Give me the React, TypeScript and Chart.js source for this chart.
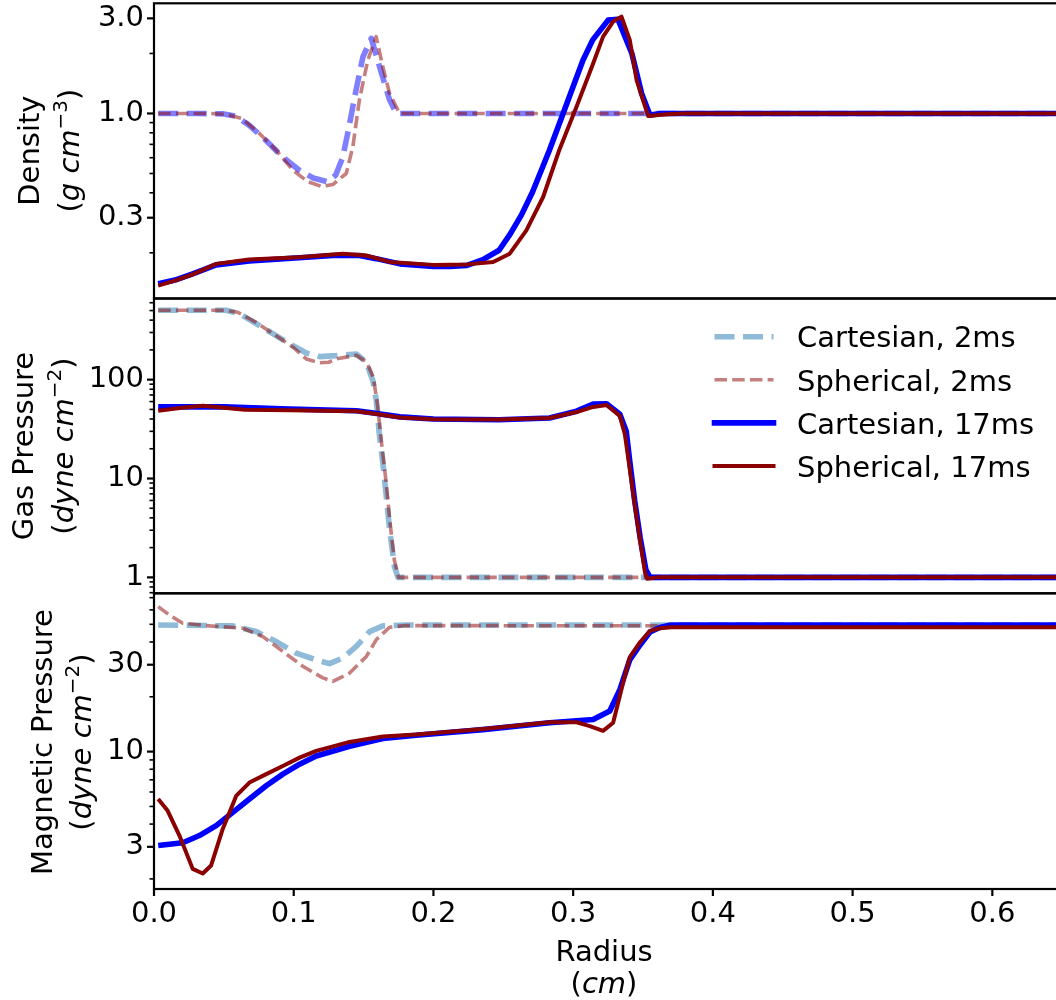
import React, { useEffect, useRef } from 'react';
import { Chart, registerables } from 'chart.js';

Chart.register(...registerables);

// ---------- data (radius in cm, value) ----------
const X_MAX = 0.647;
const X_TICKS = [0, 0.1, 0.2, 0.3, 0.4, 0.5, 0.6];

type Pt = [number, number];

const densCart2ms: Pt[] = [[0.003,1.0],[0.03,1.0],[0.05,0.995],[0.058,0.97],[0.068,0.874],[0.08,0.734],[0.092,0.605],[0.104,0.519],[0.114,0.475],[0.124,0.455],[0.13,0.49],[0.135,0.6],[0.1395,0.85],[0.1435,1.2],[0.1495,1.92],[0.1555,2.38],[0.1615,1.71],[0.1686,1.17],[0.1734,1.0],[0.2,1.0],[0.647,1.0]];
const densSph2ms: Pt[] = [[0.003,1.0],[0.04,1.0],[0.052,0.99],[0.063,0.944],[0.0755,0.793],[0.0875,0.654],[0.0994,0.519],[0.11,0.455],[0.12,0.43],[0.128,0.44],[0.1376,0.5],[0.1423,0.68],[0.147,1.17],[0.153,1.85],[0.159,2.43],[0.1638,1.71],[0.1686,1.26],[0.1758,1.0],[0.2,1.0],[0.647,1.0]];
const densCart17ms: Pt[] = [[0.003,0.14],[0.015,0.146],[0.0277,0.157],[0.0445,0.174],[0.0683,0.182],[0.104,0.189],[0.128,0.194],[0.147,0.194],[0.159,0.187],[0.176,0.176],[0.2,0.171],[0.2116,0.171],[0.224,0.173],[0.2354,0.185],[0.247,0.206],[0.255,0.249],[0.263,0.31],[0.271,0.405],[0.283,0.654],[0.295,1.1],[0.307,1.85],[0.314,2.34],[0.325,2.94],[0.332,2.97],[0.342,2.0],[0.349,1.26],[0.355,0.98],[0.362,1.0],[0.647,1.0]];
const densSph17ms: Pt[] = [[0.003,0.137],[0.015,0.145],[0.0277,0.156],[0.0445,0.176],[0.068,0.185],[0.104,0.19],[0.135,0.198],[0.152,0.194],[0.1686,0.18],[0.2,0.174],[0.224,0.175],[0.2427,0.18],[0.2546,0.198],[0.2665,0.259],[0.2785,0.381],[0.29,0.654],[0.3024,1.08],[0.3143,1.78],[0.3214,2.43],[0.3286,2.89],[0.3346,3.06],[0.3405,2.34],[0.3454,1.47],[0.3537,0.97],[0.367,0.99],[0.38,1.0],[0.647,1.0]];

const gasCart2ms: Pt[] = [[0.003,503],[0.0516,503],[0.0612,466],[0.0731,369],[0.085,292],[0.097,231],[0.109,186],[0.1185,171],[0.1304,175],[0.1448,182],[0.152,150],[0.1567,97],[0.159,63],[0.1615,26],[0.1638,14.4],[0.1686,3.1],[0.172,1.3],[0.1746,1.0],[0.647,1.0]];
const gasSph2ms: Pt[] = [[0.003,503],[0.05,503],[0.06,480],[0.073,380],[0.0855,290],[0.0994,214],[0.109,162],[0.1185,148],[0.125,150],[0.1304,162],[0.1448,176],[0.152,152],[0.157,105],[0.16,55],[0.163,22],[0.1662,9],[0.169,3.5],[0.172,1.5],[0.175,1.0],[0.647,1.0]];
const gasCart17ms: Pt[] = [[0.003,53],[0.05,53],[0.097,50.4],[0.145,48.4],[0.157,46],[0.176,42],[0.2,40],[0.247,39.3],[0.283,41],[0.3024,48],[0.3143,56.6],[0.3239,57],[0.3334,44.7],[0.338,30],[0.3405,15],[0.344,6],[0.348,2.5],[0.352,1.2],[0.355,1.0],[0.647,1.0]];
const gasSph17ms: Pt[] = [[0.003,48.4],[0.02,52],[0.035,54.4],[0.05,52],[0.065,49.5],[0.097,49],[0.145,48],[0.157,45.5],[0.176,41.5],[0.2,39.8],[0.247,39.5],[0.283,41],[0.3024,47],[0.3143,53],[0.3239,55.5],[0.3334,43],[0.337,28],[0.34,14],[0.344,5.5],[0.348,2.3],[0.3515,1.1],[0.353,0.97],[0.36,1.0],[0.647,1.0]];

const magCart2ms: Pt[] = [[0.003,49.6],[0.0564,49],[0.0731,45.6],[0.0875,40.2],[0.1018,34.7],[0.116,31.9],[0.1256,30.4],[0.1352,32.7],[0.1448,37.8],[0.1543,45.6],[0.1638,49],[0.18,49.6],[0.647,49.6]];
const magSph2ms: Pt[] = [[0.003,62.5],[0.011,56.2],[0.0206,50.7],[0.04,49],[0.0635,47.6],[0.0779,42.8],[0.0922,35.5],[0.1065,29.4],[0.1208,25.4],[0.128,24.3],[0.14,27],[0.152,33.3],[0.159,41.1],[0.1686,48.2],[0.18,49.2],[0.647,48.8]];
const magCart17ms: Pt[] = [[0.003,3.05],[0.0206,3.16],[0.0325,3.46],[0.0445,3.92],[0.0564,4.64],[0.0683,5.49],[0.0803,6.49],[0.0922,7.52],[0.1042,8.53],[0.1161,9.46],[0.14,10.7],[0.1638,11.8],[0.1877,12.3],[0.2354,13.2],[0.2832,14.4],[0.3143,15.0],[0.3262,16.7],[0.3334,21.9],[0.3405,31.9],[0.348,38.6],[0.355,45.4],[0.362,48],[0.37,49.6],[0.647,49.6]];
const magSph17ms: Pt[] = [[0.003,5.49],[0.0098,4.73],[0.0182,3.46],[0.0277,2.27],[0.0349,2.14],[0.0409,2.37],[0.0492,3.76],[0.0588,5.71],[0.0683,6.76],[0.0803,7.52],[0.0922,8.34],[0.1042,9.27],[0.1161,10.1],[0.14,11.3],[0.1638,12.1],[0.1877,12.4],[0.2354,13.3],[0.2832,14.5],[0.3024,14.5],[0.3119,13.8],[0.3214,13.0],[0.3286,14.4],[0.3357,23.8],[0.3405,33],[0.348,40],[0.355,46],[0.362,47.5],[0.37,48.2],[0.647,48.2]];

// tick values / labels
const densMajors = [0.3, 1, 3];
const densLabels = ['0.3', '1.0', '3.0'];
const densMinors = [0.2, 0.4, 0.5, 0.6, 0.7, 0.8, 0.9, 2];
const gasMajors = [1, 10, 100];
const gasLabels = ['1', '10', '100'];
const gasMinors = [0.7, 0.8, 0.9, 2, 3, 4, 5, 6, 7, 8, 9, 20, 30, 40, 50, 60, 70, 80, 90, 200, 300, 400, 500, 600];
const magMajors = [3, 10, 30];
const magLabels = ['3', '10', '30'];
const magMinors = [2, 4, 5, 6, 7, 8, 9, 20, 40, 50, 60, 70];

const legendLabels = ['Cartesian, 2ms', 'Spherical, 2ms', 'Cartesian, 17ms', 'Spherical, 17ms'];

// ---------- styles ----------
const FONT = '"DejaVu Sans", sans-serif';
const FS = 29;
const CART2_DENS = 'rgba(0,0,255,0.5)';
const CART2 = 'rgba(31,119,180,0.5)';
const SPH2 = 'rgba(139,0,0,0.5)';
const CART17 = '#0000ff';
const SPH17 = '#8b0000';
const W_C2 = 5.6, W_S2 = 3.6, W_C17 = 5.6, W_S17 = 4.0;
const D_C2 = [20, 8.5], D_S2 = [12.5, 5.2];

const CANVAS_W = 1062;
const PLOT_LEFT = 154;
const PLOT_RIGHT = 1058;

type Part = { t: string; it?: boolean; sup?: boolean };
type Series = { data: Pt[]; color: string; width: number; dash: number[]; order: number };

interface Panel {
  canvasTop: number; canvasH: number; padTop: number; padBottom: number;
  yMin: number; yMax: number; majors: number[]; labels: string[]; minors: number[];
  series: Series[];
  line1: string; line2: Part[]; x1: number; x2: number; cy: number;
  showX: boolean; legend: boolean;
}

const mkSeries = (c2: Pt[], s2: Pt[], c17: Pt[], s17: Pt[], c2col: string): Series[] => [
  { data: c2, color: c2col, width: W_C2, dash: D_C2, order: 4 },
  { data: s2, color: SPH2, width: W_S2, dash: D_S2, order: 3 },
  { data: c17, color: CART17, width: W_C17, dash: [], order: 2 },
  { data: s17, color: SPH17, width: W_S17, dash: [], order: 1 },
];

const PANELS: Panel[] = [
  {
    canvasTop: 0, canvasH: 300, padTop: 3.3, padBottom: 1.5,
    yMin: 0.118, yMax: 3.57, majors: densMajors, labels: densLabels, minors: densMinors,
    series: mkSeries(densCart2ms, densSph2ms, densCart17ms, densSph17ms, CART2_DENS),
    line1: 'Density', line2: [{ t: '(' }, { t: 'g cm', it: true }, { t: '\u22123', sup: true }, { t: ')' }],
    x1: 39, x2: 79, cy: 150.6, showX: false, legend: false,
  },
  {
    canvasTop: 296, canvasH: 300, padTop: 2.5, padBottom: 2.7,
    yMin: 0.69, yMax: 662, majors: gasMajors, labels: gasLabels, minors: gasMinors,
    series: mkSeries(gasCart2ms, gasSph2ms, gasCart17ms, gasSph17ms, CART2),
    line1: 'Gas Pressure', line2: [{ t: '(' }, { t: 'dyne cm', it: true }, { t: '\u22122', sup: true }, { t: ')' }],
    x1: 33, x2: 73, cy: 446, showX: false, legend: true,
  },
  {
    canvasTop: 590, canvasH: 410, padTop: 3.3, padBottom: 0,
    yMin: 1.76, yMax: 74, majors: magMajors, labels: magLabels, minors: magMinors,
    series: mkSeries(magCart2ms, magSph2ms, magCart17ms, magSph17ms, CART2),
    line1: 'Magnetic Pressure', line2: [{ t: '(' }, { t: 'dyne cm', it: true }, { t: '\u22122', sup: true }, { t: ')' }],
    x1: 52, x2: 91, cy: 742, showX: true, legend: false,
  },
];

function fontFor(p: Part) {
  const size = p.sup ? Math.round(FS * 0.7) : FS;
  return `${p.it ? 'italic ' : ''}${size}px ${FONT}`;
}

function drawRich(ctx: CanvasRenderingContext2D, parts: Part[], cx: number, baseY: number) {
  const widths = parts.map((p) => { ctx.font = fontFor(p); return ctx.measureText(p.t).width; });
  const total = widths.reduce((a, b) => a + b, 0);
  let x = cx - total / 2;
  ctx.textAlign = 'left';
  ctx.textBaseline = 'alphabetic';
  parts.forEach((p, i) => {
    ctx.font = fontFor(p);
    ctx.fillText(p.t, x, baseY - (p.sup ? 12 : 0));
    x += widths[i];
  });
}

const zeroPad = (s: any) => {
  s.paddingTop = 0;
  s.paddingBottom = 0;
  s.paddingLeft = 0;
  s.paddingRight = 0;
};

function decorPlugin(p: Panel) {
  return {
    id: 'decor',
    afterDraw(chart: any) {
      const { ctx, chartArea: a } = chart;
      const ys = chart.scales.y;
      const xs = chart.scales.x;
      ctx.save();
      ctx.strokeStyle = '#000';
      ctx.fillStyle = '#000';
      // spines
      ctx.lineWidth = 2.2;
      ctx.strokeRect(a.left, a.top, a.right - a.left, a.bottom - a.top);
      // y ticks
      const tick = (v: number, len: number, w: number) => {
        const py = ys.getPixelForValue(v);
        if (py < a.top - 0.5 || py > a.bottom + 0.5) return;
        ctx.lineWidth = w;
        ctx.beginPath();
        ctx.moveTo(a.left - len, py);
        ctx.lineTo(a.left, py);
        ctx.stroke();
      };
      p.minors.forEach((v) => tick(v, 4.5, 1.6));
      p.majors.forEach((v) => tick(v, 7, 2.2));
      // x ticks
      if (p.showX) {
        ctx.lineWidth = 2.2;
        X_TICKS.forEach((v) => {
          const px = xs.getPixelForValue(v);
          ctx.beginPath();
          ctx.moveTo(px, a.bottom);
          ctx.lineTo(px, a.bottom + 7);
          ctx.stroke();
        });
        // x title
        const cx = 604;
        drawRich(ctx, [{ t: 'Radius' }], cx, 961 - p.canvasTop);
        drawRich(ctx, [{ t: '(' }, { t: 'cm', it: true }, { t: ')' }], cx, 993 - p.canvasTop);
      }
      // y title (rotated)
      const cy = p.cy - p.canvasTop;
      ctx.save();
      ctx.translate(p.x1, cy);
      ctx.rotate(-Math.PI / 2);
      drawRich(ctx, [{ t: p.line1 }], 0, 0);
      ctx.restore();
      ctx.save();
      ctx.translate(p.x2, cy);
      ctx.rotate(-Math.PI / 2);
      drawRich(ctx, p.line2, 0, 0);
      ctx.restore();
      // legend
      if (p.legend) {
        const rows = [336.7, 379.8, 422.9, 466];
        p.series.forEach((s, i) => {
          const y = rows[i] - p.canvasTop;
          ctx.save();
          ctx.strokeStyle = s.color;
          ctx.lineWidth = s.width;
          ctx.setLineDash(s.dash);
          ctx.lineCap = s.dash.length ? 'butt' : 'square';
          ctx.beginPath();
          ctx.moveTo(714.5, y);
          ctx.lineTo(773.5, y);
          ctx.stroke();
          ctx.restore();
          ctx.font = `${FS}px ${FONT}`;
          ctx.textAlign = 'left';
          ctx.textBaseline = 'alphabetic';
          ctx.fillStyle = '#000';
          ctx.fillText(legendLabels[i], 797, y + 10.7);
        });
      }
      ctx.restore();
    },
  };
}

function makeConfig(p: Panel): any {
  return {
    type: 'line',
    data: {
      datasets: p.series.map((s, i) => ({
        label: legendLabels[i],
        data: s.data.map(([x, y]) => ({ x, y })),
        borderColor: s.color,
        backgroundColor: s.color,
        borderWidth: s.width,
        borderDash: s.dash,
        borderCapStyle: 'butt',
        borderJoinStyle: 'round',
        pointRadius: 0,
        pointHoverRadius: 0,
        tension: 0,
        fill: false,
        order: s.order,
      })),
    },
    options: {
      responsive: false,
      animation: false,
      devicePixelRatio: 1,
      events: [],
      layout: { padding: { left: 0, right: CANVAS_W - PLOT_RIGHT, top: p.padTop, bottom: p.padBottom } },
      plugins: { legend: { display: false }, tooltip: { enabled: false }, title: { display: false } },
      scales: {
        x: {
          type: 'linear',
          min: 0,
          max: X_MAX,
          display: p.showX,
          grid: { display: false, drawTicks: false },
          border: { display: false },
          afterBuildTicks: (s: any) => { s.ticks = X_TICKS.map((v) => ({ value: v })); },
          afterFit: (s: any) => {
            zeroPad(s);
            s.height = p.showX ? 111 : 0;
          },
          ticks: {
            font: { family: FONT, size: FS },
            color: '#000',
            padding: 8,
            maxRotation: 0,
            autoSkip: false,
            callback: (v: any) => Number(v).toFixed(1),
          },
        },
        y: {
          type: 'logarithmic',
          min: p.yMin,
          max: p.yMax,
          grid: { display: false, drawTicks: false },
          border: { display: false },
          afterBuildTicks: (s: any) => { s.ticks = p.majors.map((v) => ({ value: v })); },
          afterFit: (s: any) => {
            zeroPad(s);
            s.width = PLOT_LEFT;
          },
          ticks: {
            font: { family: FONT, size: FS },
            color: '#000',
            padding: 10,
            autoSkip: false,
            callback: (v: any) => {
              const idx = p.majors.findIndex((m) => Math.abs(m - Number(v)) < 1e-9);
              return idx >= 0 ? p.labels[idx] : '';
            },
          },
        },
      },
    },
    plugins: [decorPlugin(p)],
  };
}

export default function App() {
  const r0 = useRef<HTMLCanvasElement>(null);
  const r1 = useRef<HTMLCanvasElement>(null);
  const r2 = useRef<HTMLCanvasElement>(null);
  const refs = [r0, r1, r2];

  useEffect(() => {
    const charts = PANELS.map((p, i) => new Chart(refs[i].current as HTMLCanvasElement, makeConfig(p)));
    return () => charts.forEach((c) => c.destroy());
  }, []);

  return (
    <div style={{ position: 'absolute', left: 0, top: 0, width: 1056, height: 1000, overflow: 'hidden', background: '#fff' }}>
      {PANELS.map((p, i) => (
        <canvas
          key={i}
          ref={refs[i]}
          width={CANVAS_W}
          height={p.canvasH}
          style={{ position: 'absolute', left: 0, top: p.canvasTop, width: CANVAS_W, height: p.canvasH }}
        />
      ))}
    </div>
  );
}
